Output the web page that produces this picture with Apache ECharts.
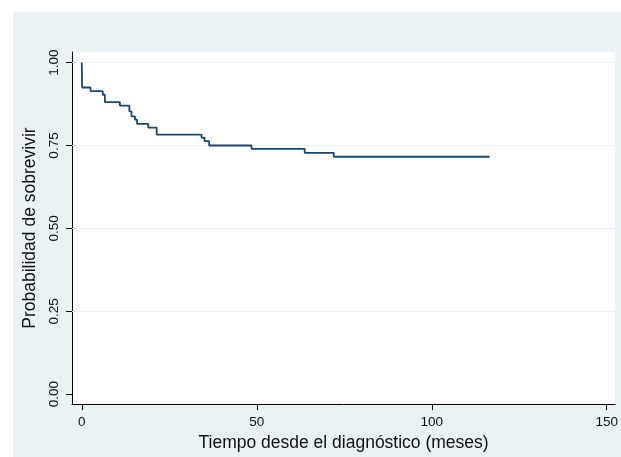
<!DOCTYPE html>
<html>
<head>
<meta charset="utf-8">
<script src="https://cdn.jsdelivr.net/npm/echarts@6/dist/echarts.min.js"></script>
<style>
html,body{margin:0;padding:0;background:#ffffff;}
#bg{position:absolute;left:13px;top:12px;width:608px;height:445px;background:#EAF2F3;}
#c{position:absolute;left:0;top:0;width:621px;height:457px;}
</style>
</head>
<body>
<div id="bg"></div>
<div id="c"></div>
<script>
// Kaplan-Meier step points (months, survival probability)
const times = [0, 0.1, 2.5, 6.0, 6.6, 10.9, 13.6, 14.2, 15.2, 15.8, 19.0, 21.4, 34.2, 35.1, 36.4, 48.5, 63.7, 72.0, 116.5];
const surv  = [1.0, 0.925, 0.914, 0.903, 0.881, 0.870, 0.853, 0.838, 0.828, 0.815, 0.804, 0.783, 0.774, 0.763, 0.750, 0.740, 0.728, 0.716, 0.716];
const xTicks = [0, 50, 100, 150];
const yTicks = [0, 0.25, 0.5, 0.75, 1.0];
const yGrid = [0.25, 0.5, 0.75, 1.0];
const xTitle = 'Tiempo desde el diagnóstico (meses)';
const yTitle = 'Probabilidad de sobrevivir';

const FONT = 'Liberation Sans';
const chart = echarts.init(document.getElementById('c'), null, {renderer: 'canvas'});
chart.setOption({
  backgroundColor: 'transparent',
  animation: false,
  grid: {left: 72, top: 52, right: 5, bottom: 51, show: true, backgroundColor: '#ffffff', borderWidth: 0},
  xAxis: {
    type: 'value', min: -2.796, max: 152.4,
    name: xTitle, nameLocation: 'middle', nameGap: 24,
    nameTextStyle: {fontFamily: FONT, fontSize: 17.5, color: '#111'},
    axisLine: {show: true, onZero: false, lineStyle: {color: '#000', width: 1}},
    axisTick: {show: true, length: 6, customValues: xTicks, lineStyle: {color: '#000'}},
    axisLabel: {customValues: xTicks, margin: 11, fontFamily: FONT, fontSize: 13.5, color: '#111'},
    splitLine: {show: false}
  },
  yAxis: {
    type: 'value', min: -0.030, max: 1.032,
    name: yTitle, nameLocation: 'middle', nameGap: 32,
    nameTextStyle: {fontFamily: FONT, fontSize: 17.5, color: '#111'},
    axisLine: {show: true, onZero: false, lineStyle: {color: '#000', width: 1}},
    axisTick: {show: true, length: 6, customValues: yTicks, lineStyle: {color: '#000'}},
    axisLabel: {customValues: yTicks, rotate: 90, margin: 11, fontFamily: FONT, fontSize: 13.5, color: '#111',
      formatter: v => v.toFixed(2)},
    splitLine: {show: false}
  },
  series: [
    {
      type: 'line', data: [], z: 1, silent: true,
      markLine: {silent: true, symbol: ['none','none'], label: {show: false},
        lineStyle: {color: '#EAF2F3', width: 1.2, type: 'solid'},
        data: yGrid.map(v => ({yAxis: v}))}
    },
    {
      type: 'line', step: 'end', zlevel: 1, z: 3, showSymbol: false,
      data: times.map((t, i) => [t, surv[i]]),
      lineStyle: {color: '#1A476F', width: 1.8}
    }
  ]
});
</script>
</body>
</html>
